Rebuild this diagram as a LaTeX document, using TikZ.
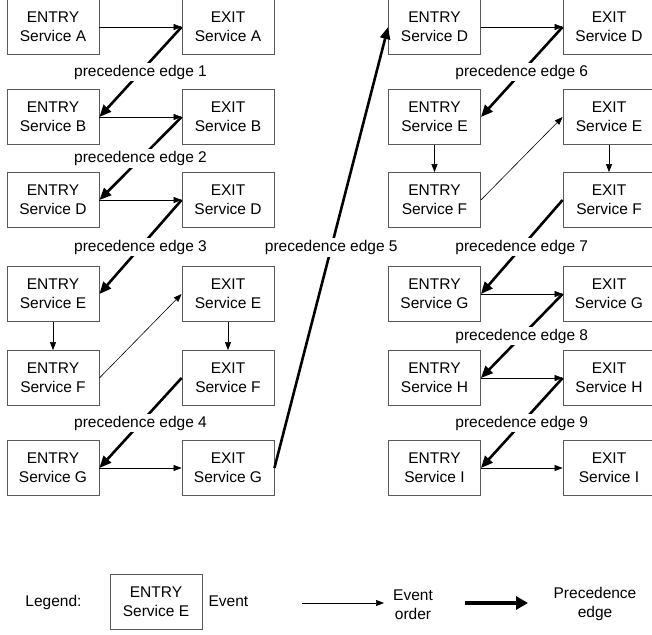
\documentclass[tikz,border=0pt]{standalone}
\usepackage{fontspec}
\setmainfont{Liberation Sans}
\usetikzlibrary{arrows.meta,positioning}
\tikzset{
    event/.style={draw=black!65, line width=0.8pt, minimum width=92pt, minimum height=55pt,
        inner sep=0pt, align=center, font=\fontsize{15.5}{19}\selectfont},
    order/.style={-{Triangle[length=8pt,width=6pt]}, line width=0.6pt},
    prec/.style={-{Triangle[length=12pt,width=10pt]}, line width=2.6pt},
    plabel/.style={midway, fill=white, inner sep=2pt, font=\fontsize{15.5}{19}\selectfont},
    ltext/.style={align=center, inner sep=1pt, font=\fontsize{15.5}{19}\selectfont},
}
\begin{document}
\begin{tikzpicture}[x=1pt,y=-1pt]
		\useasboundingbox (0,0) rectangle (652,634);
		\clip (0,0) rectangle (652,634);
		% left column
		\node[event] (enA) at (53,27) {ENTRY\\Service A};
		\node[event] (exA) at (228,27) {EXIT\\Service A};
		\node[event] (enB) at (53,117) {ENTRY\\Service B};
		\node[event] (exB) at (228,117) {EXIT\\Service B};
		\node[event] (enD) at (53,200) {ENTRY\\Service D};
		\node[event] (exD) at (228,200) {EXIT\\Service D};
		\node[event] (enE) at (53,294) {ENTRY\\Service E};
		\node[event] (exE) at (228,294) {EXIT\\Service E};
		\node[event] (enF) at (53,378) {ENTRY\\Service F};
		\node[event] (exF) at (228,378) {EXIT\\Service F};
		\node[event] (enG) at (53,468) {ENTRY\\Service G};
		\node[event] (exG) at (228,468) {EXIT\\Service G};
		% right column
		\node[event] (renD) at (434.5,27) {ENTRY\\Service D};
		\node[event] (rexD) at (609,27) {EXIT\\Service D};
		\node[event] (renE) at (434.5,117) {ENTRY\\Service E};
		\node[event] (rexE) at (609,117) {EXIT\\Service E};
		\node[event] (renF) at (434.5,200) {ENTRY\\Service F};
		\node[event] (rexF) at (609,200) {EXIT\\Service F};
		\node[event] (renG) at (434.5,294) {ENTRY\\Service G};
		\node[event] (rexG) at (609,294) {EXIT\\Service G};
		\node[event] (renH) at (434.5,378) {ENTRY\\Service H};
		\node[event] (rexH) at (609,378) {EXIT\\Service H};
		\node[event] (renI) at (434.5,468) {ENTRY\\Service I};
		\node[event] (rexI) at (609,468) {EXIT\\Service I};

		% event order
		\draw[order] (enA) -- (exA);
		\draw[order] (enB) -- (exB);
		\draw[order] (enD) -- (exD);
		\draw[order] (enE) -- (enF);
		\draw[order] (enF.east) -- (exE.west);
		\draw[order] (exE) -- (exF);
		\draw[order] (enG) -- (exG);
		\draw[order] (renD) -- (rexD);
		\draw[order] (renE) -- (renF);
		\draw[order] (renF.east) -- (rexE.west);
		\draw[order] (rexE) -- (rexF);
		\draw[order] (renG) -- (rexG);
		\draw[order] (renH) -- (rexH);
		\draw[order] (renI) -- (rexI);

		% precedence edges
		\draw[prec] (exA.west) -- (enB.east) node[plabel] (p1) {precedence edge 1};
		\draw[prec] (exB.west) -- (enD.east) node[plabel] (p2) {precedence edge 2};
		\draw[prec] (exD.west) -- (enE.east) node[plabel] (p3) {precedence edge 3};
		\draw[prec] (exF.west) -- (enG.east) node[plabel] (p4) {precedence edge 4};
		\draw[prec] (exG.east) -- (renD.west) node[plabel] (p5) {precedence edge 5};
		\draw[prec] (rexD.west) -- (renE.east) node[plabel] (p6) {precedence edge 6};
		\draw[prec] (rexF.west) -- (renG.east) node[plabel] (p7) {precedence edge 7};
		\draw[prec] (rexG.west) -- (renH.east) node[plabel] (p8) {precedence edge 8};
		\draw[prec] (rexH.west) -- (renI.east) node[plabel] (p9) {precedence edge 9};

		% legend
		\node[ltext] (lg) at (53.5,602) {Legend:};
		\node[event] (lgbox) at (156,601.5) {ENTRY\\Service E};
		\node[ltext, right=5pt of lgbox] (lgev) {Event};
		\coordinate (lgOa) at (302,603);
		\coordinate (lgOb) at (384,603);
		\draw[order] (lgOa) -- (lgOb);
		\node[ltext] (lgord) at (413,605) {Event\\order};
		\coordinate (lgPa) at (465,603);
		\coordinate (lgPb) at (528,603);
		\draw[prec, line width=3.4pt, -{Triangle[length=12pt,width=13pt]}] (lgPa) -- (lgPb);
		\node[ltext] (lgprec) at (595,604) {Precedence\\edge};
	\end{tikzpicture}
\end{document}
